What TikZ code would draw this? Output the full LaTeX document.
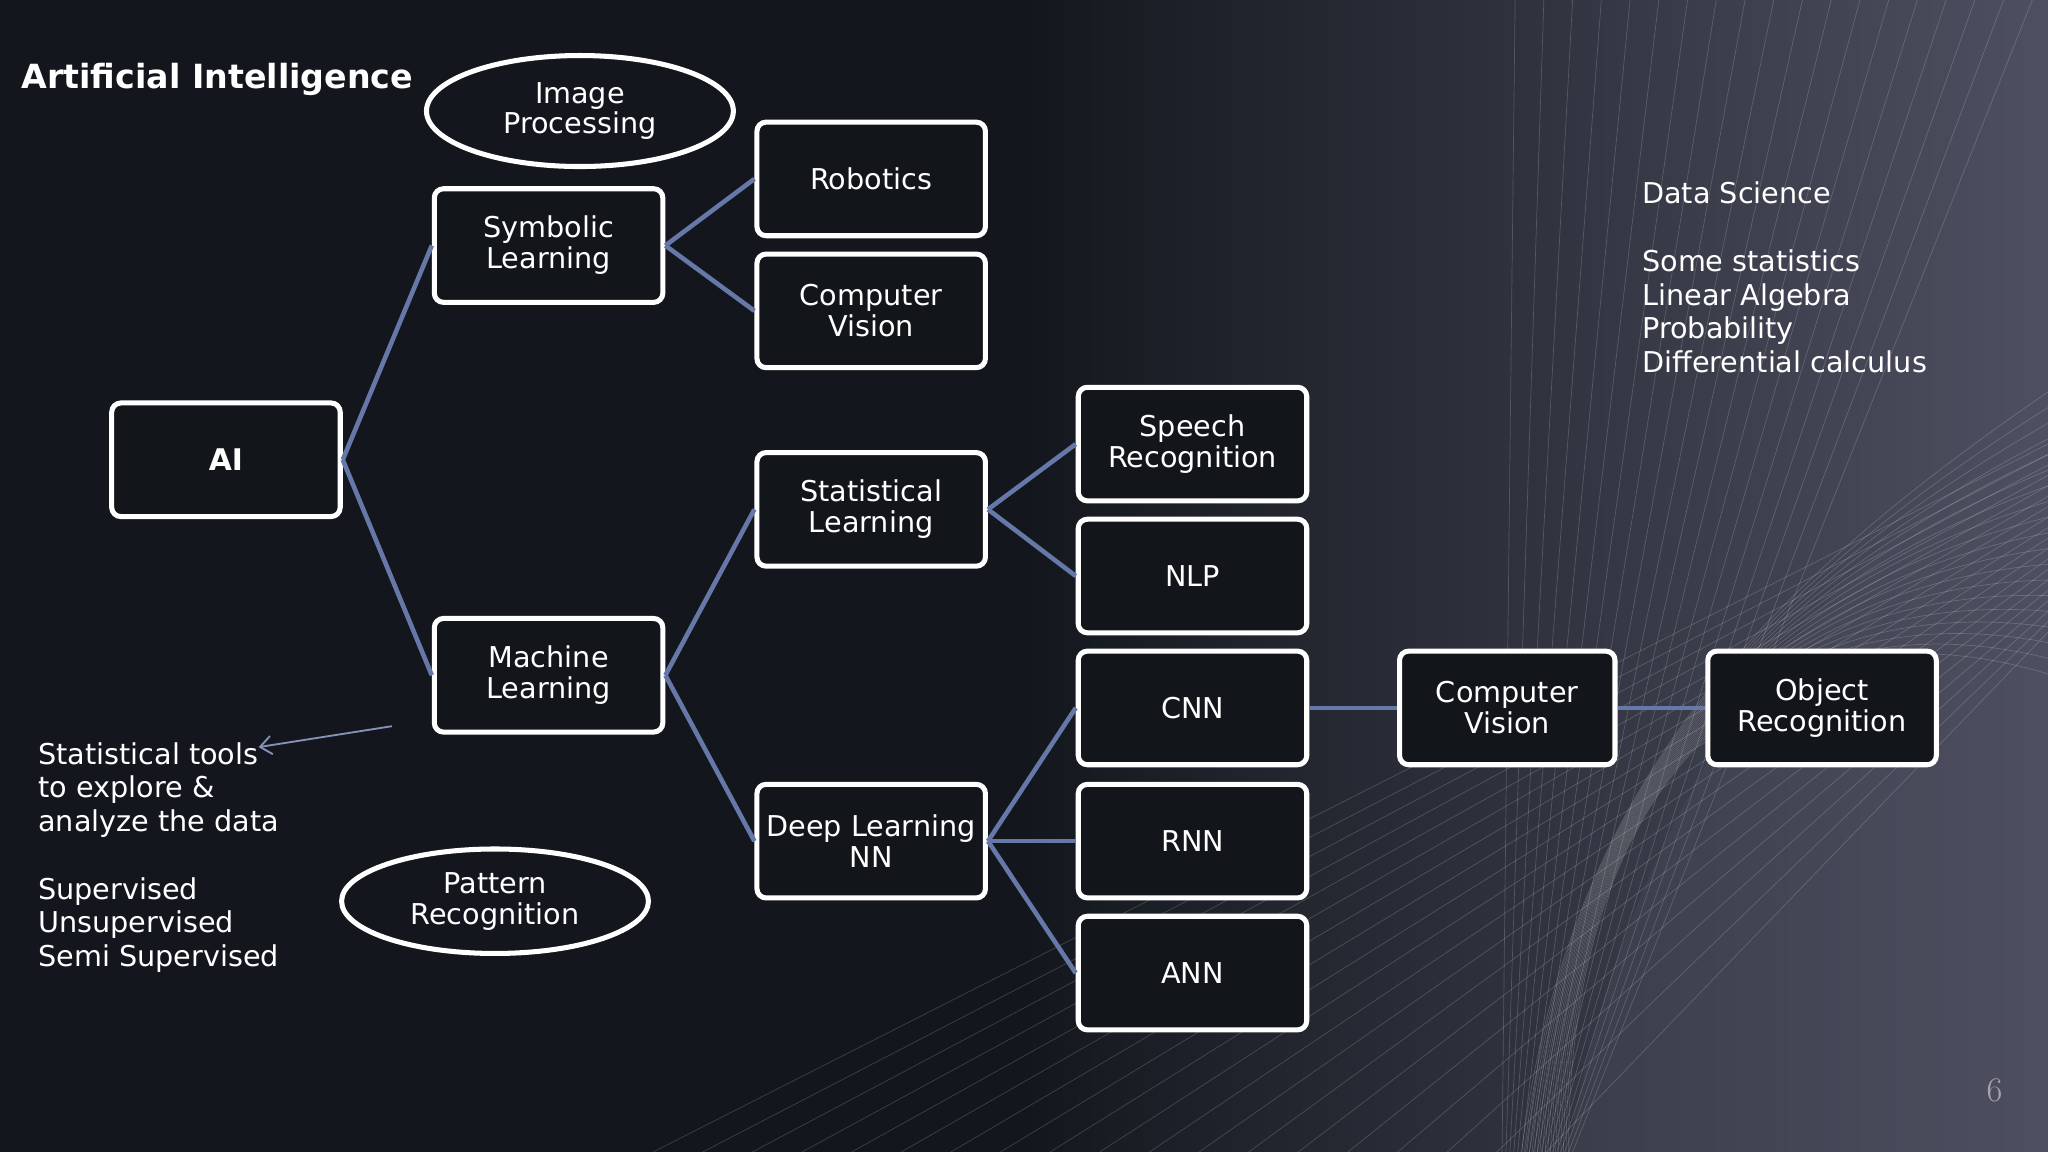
\documentclass[tikz,border=0pt]{standalone}
\usepackage{fontspec}
\setmainfont{DejaVu Sans}
\usetikzlibrary{shapes.geometric,arrows.meta,fadings}
\definecolor{bgA}{HTML}{13171D}
\definecolor{bgB}{HTML}{4E5061}
\definecolor{conn}{HTML}{6678A8}
\definecolor{boxfill}{HTML}{121519}
\begin{document}
\begin{tikzpicture}[x=0.02cm,y=-0.02cm,
  box/.style={draw=white,line width=2.2pt,rounded corners=4pt,fill=boxfill,minimum width=3.5cm,minimum height=1.74cm,align=center,text=white,font=\fontsize{12.5}{13.5}\selectfont,inner sep=1pt},
  ell/.style={draw=white,line width=2.2pt,ellipse,minimum width=4.7cm,minimum height=1.7cm,align=center,text=white,font=\fontsize{12.5}{13.5}\selectfont,inner sep=0pt},
  con/.style={draw=conn,line width=2pt},
  deco/.style={draw=white,opacity=0.18,line width=0.3pt},
  txt/.style={text=white,align=left,anchor=north west,font=\fontsize{12.5}{14.7}\selectfont,inner sep=0pt}]
\useasboundingbox (0,0) rectangle (1568,882);
\fill[bgA] (0,0) rectangle (1568,882);
\shade[left color=bgA,right color=bgB,middle color=bgA] (0,0) rectangle (1568,882);
\fill[bgB,opacity=0.3] (1200,882) .. controls (1250,600) and (1400,420) .. (1568,330) -- (1568,882) -- cycle;
% decorative string lines
\foreach \i in {0,...,18}{
  \draw[deco] (1150+3*\i,882) -- (1160+22*\i,0);
  \draw[deco] (500+38*\i,882) -- (1568,340+8*\i);
  \draw[deco] (1165+2*\i,882) .. controls (1200,600) and (1350,450) .. (1568,300+12*\i);
}
\node[text=white,font=\bfseries\fontsize{14.5}{17}\selectfont,anchor=west,inner sep=0pt] (title) at (16,61) {Artificial Intelligence};
\node[box,font=\bfseries\fontsize{13}{14}\selectfont] (ai) at (173,352) {AI};
\node[box] (sym) at (420,188) {Symbolic\\Learning};
\node[box] (ml) at (420,517) {Machine\\Learning};
\node[box] (rob) at (667,137) {Robotics};
\node[box] (cv) at (667,238) {Computer\\Vision};
\node[box] (sl) at (667,390) {Statistical\\Learning};
\node[box] (dl) at (667,644) {Deep Learning\\NN};
\node[box] (sr) at (913,340) {Speech\\Recognition};
\node[box] (nlp) at (913,441) {NLP};
\node[box] (cnn) at (913,542) {CNN};
\node[box] (rnn) at (913,644) {RNN};
\node[box] (ann) at (913,745) {ANN};
\node[box,minimum width=3.3cm] (cv2) at (1154,542) {Computer\\Vision};
\node[box] (obj) at (1395,542) {Object\\Recognition};
\node[ell] (ip) at (444,85) {Image\\Processing};
\node[ell,minimum height=1.6cm] (pr) at (379,690) {Pattern\\Recognition};
\draw[con] (ai.east) -- (sym.west);
\draw[con] (ai.east) -- (ml.west);
\draw[con] (sym.east) -- (rob.west);
\draw[con] (sym.east) -- (cv.west);
\draw[con] (ml.east) -- (sl.west);
\draw[con] (ml.east) -- (dl.west);
\draw[con] (sl.east) -- (sr.west);
\draw[con] (sl.east) -- (nlp.west);
\draw[con] (dl.east) -- (cnn.west);
\draw[con] (dl.east) -- (rnn.west);
\draw[con] (dl.east) -- (ann.west);
\draw[con] (cnn.east) -- (cv2.west);
\draw[con] (cv2.east) -- (obj.west);
\coordinate (as) at (300,556);
\coordinate (ae) at (198,572);
\draw[draw=conn!80!white,line width=0.8pt,-{Straight Barb[length=5pt,width=8pt]}] (as) -- (ae);
\node[txt] (t1) at (29,568) {Statistical tools\\to explore \&\\analyze the data\\[14.7pt]Supervised\\Unsupervised\\Semi Supervised};
\node[txt] (t2) at (1257,139) {Data Science\\[14.7pt]Some statistics\\Linear Algebra\\Probability\\Differential calculus};
\node[text=gray!70,font=\fontfamily{lmr}\selectfont\fontsize{15}{16}\selectfont] (pg) at (1527,835) {6};
\end{tikzpicture}
\end{document}
